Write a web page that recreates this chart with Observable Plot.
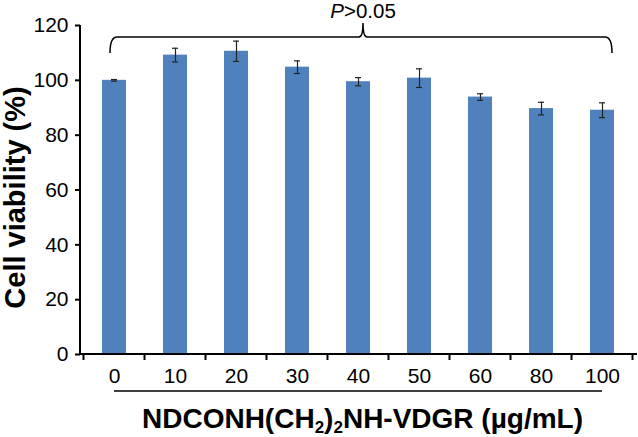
<!DOCTYPE html>
<html>
<head>
<meta charset="utf-8">
<script src="https://cdn.jsdelivr.net/npm/d3@7"></script>
<script src="https://cdn.jsdelivr.net/npm/@observablehq/plot@0.6"></script>
<style>
  html, body { margin: 0; padding: 0; background: #fff; }
  #chart svg { display: block; }
</style>
</head>
<body>
<div id="chart"></div>
<script>
// Data
const concentrations = ["0", "10", "20", "30", "40", "50", "60", "80", "100"];
const viability = [100, 109.2, 110.6, 104.8, 99.5, 100.8, 93.9, 89.7, 89.1];
const errors = [0.3, 2.5, 3.7, 2.3, 1.5, 3.4, 1.2, 2.3, 2.7];
const yTicks = [0, 20, 40, 60, 80, 100, 120];
const yLabel = "Cell viability (%)";
const pLabel = "P>0.05";
const braceLevel = 115.6;

const data = concentrations.map((c, i) => ({conc: c, mean: viability[i], err: errors[i]}));

const font = "'Liberation Sans', Arial, Helvetica, sans-serif";
const ns = "http://www.w3.org/2000/svg";

function annotations(index, scales, values, dims) {
  const {x, y} = scales;
  const g = document.createElementNS(ns, "g");
  const left = dims.marginLeft, right = dims.width - dims.marginRight;
  const n = concentrations.length;
  const step = x.step ? x.step() : (right - left) / n;
  const bw = x.bandwidth ? x.bandwidth() : step * 0.4;
  const center = (c) => x(c) + bw / 2;
  const y0 = y(0);
  const add = (tag, attrs, text) => {
    const el = document.createElementNS(ns, tag);
    for (const k in attrs) el.setAttribute(k, attrs[k]);
    if (text != null) el.textContent = text;
    g.appendChild(el);
    return el;
  };
  // axis lines
  add("line", {x1: left, x2: left, y1: y0 + 1, y2: y(yTicks[yTicks.length - 1]), stroke: "#000", "stroke-width": 2});
  add("line", {x1: left, x2: right, y1: y0, y2: y0, stroke: "#000", "stroke-width": 2});
  // x ticks at band edges
  const edges = concentrations.map(c => center(c) - step / 2).concat([center(concentrations[n - 1]) + step / 2]);
  for (const e of edges) add("line", {x1: e, x2: e, y1: y0, y2: y0 + 6, stroke: "#000", "stroke-width": 2});
  // underline under tick labels
  const c0 = center(concentrations[0]), cN = center(concentrations[n - 1]);
  add("line", {x1: c0, x2: cN, y1: y0 + 37, y2: y0 + 37, stroke: "#000", "stroke-width": 1.5});
  // x title with subscripts
  const xt = add("text", {x: (left + right) / 2 + 4, y: dims.height - 9, "text-anchor": "middle",
    "font-family": font, "font-weight": "bold", "font-size": 28, fill: "#000"});
  const parts = [["NDCONH(CH", false], ["2", true], [")", false], ["2", true], ["NH-VDGR (µg/mL)", false]];
  for (const [t, sub] of parts) {
    const ts = document.createElementNS(ns, "tspan");
    ts.textContent = t;
    if (sub) { ts.setAttribute("font-size", 17); ts.setAttribute("dy", 5); }
    else if (t !== parts[0][0]) { ts.setAttribute("dy", -5); }
    xt.appendChild(ts);
  }
  // y title
  const ym = (y(0) + y(120)) / 2 + 8;
  add("text", {transform: `translate(25,${ym}) rotate(-90)`, "text-anchor": "middle",
    "font-family": font, "font-weight": "bold", "font-size": 29, fill: "#000"}, yLabel);
  // brace
  const L = c0 - 4, R = cN + 10, M = (L + R) / 2 + 2, yb = y(braceLevel);
  const d = `M${L},${yb + 16} Q${L},${yb} ${L + 7},${yb} H${M - 4} Q${M},${yb} ${M},${yb - 14} Q${M},${yb} ${M + 4},${yb} H${R - 7} Q${R},${yb} ${R},${yb + 16}`;
  add("path", {d, fill: "none", stroke: "#000", "stroke-width": 1.5});
  const pt = add("text", {x: M, y: yb - 19, "text-anchor": "middle", "font-family": font, "font-size": 20.5, fill: "#000"});
  const p1 = document.createElementNS(ns, "tspan"); p1.setAttribute("font-style", "italic"); p1.textContent = pLabel.slice(0, 1);
  const p2 = document.createElementNS(ns, "tspan"); p2.textContent = pLabel.slice(1);
  pt.appendChild(p1); pt.appendChild(p2);
  return g;
}

const chart = Plot.plot({
  width: 638,
  height: 437,
  marginTop: 25,
  marginBottom: 83,
  marginLeft: 80,
  marginRight: 1,
  style: {fontFamily: font, color: "#000", background: "#fff"},
  x: {domain: concentrations, paddingInner: 0.6, paddingOuter: 0.3},
  y: {domain: [0, 120]},
  marks: [
    Plot.barY(data, {x: "conc", y: "mean", fill: "#4f81bd"}),
    Plot.ruleX(data, {x: "conc", y1: d => d.mean - d.err, y2: d => d.mean + d.err, stroke: "#222", strokeWidth: 1.2}),
    Plot.tickY(data, {x: "conc", y: d => d.mean + d.err, stroke: "#222", strokeWidth: 1.2, insetLeft: 9, insetRight: 9}),
    Plot.tickY(data, {x: "conc", y: d => d.mean - d.err, stroke: "#222", strokeWidth: 1.2, insetLeft: 9, insetRight: 9}),
    Plot.axisY({ticks: yTicks, tickSize: 5, tickPadding: 7, fontSize: 21, label: null, strokeWidth: 2}),
    Plot.axisX({tickSize: 0, tickPadding: 14, fontSize: 21, label: null}),
    annotations
  ]
});
document.getElementById("chart").appendChild(chart);
</script>
</body>
</html>
